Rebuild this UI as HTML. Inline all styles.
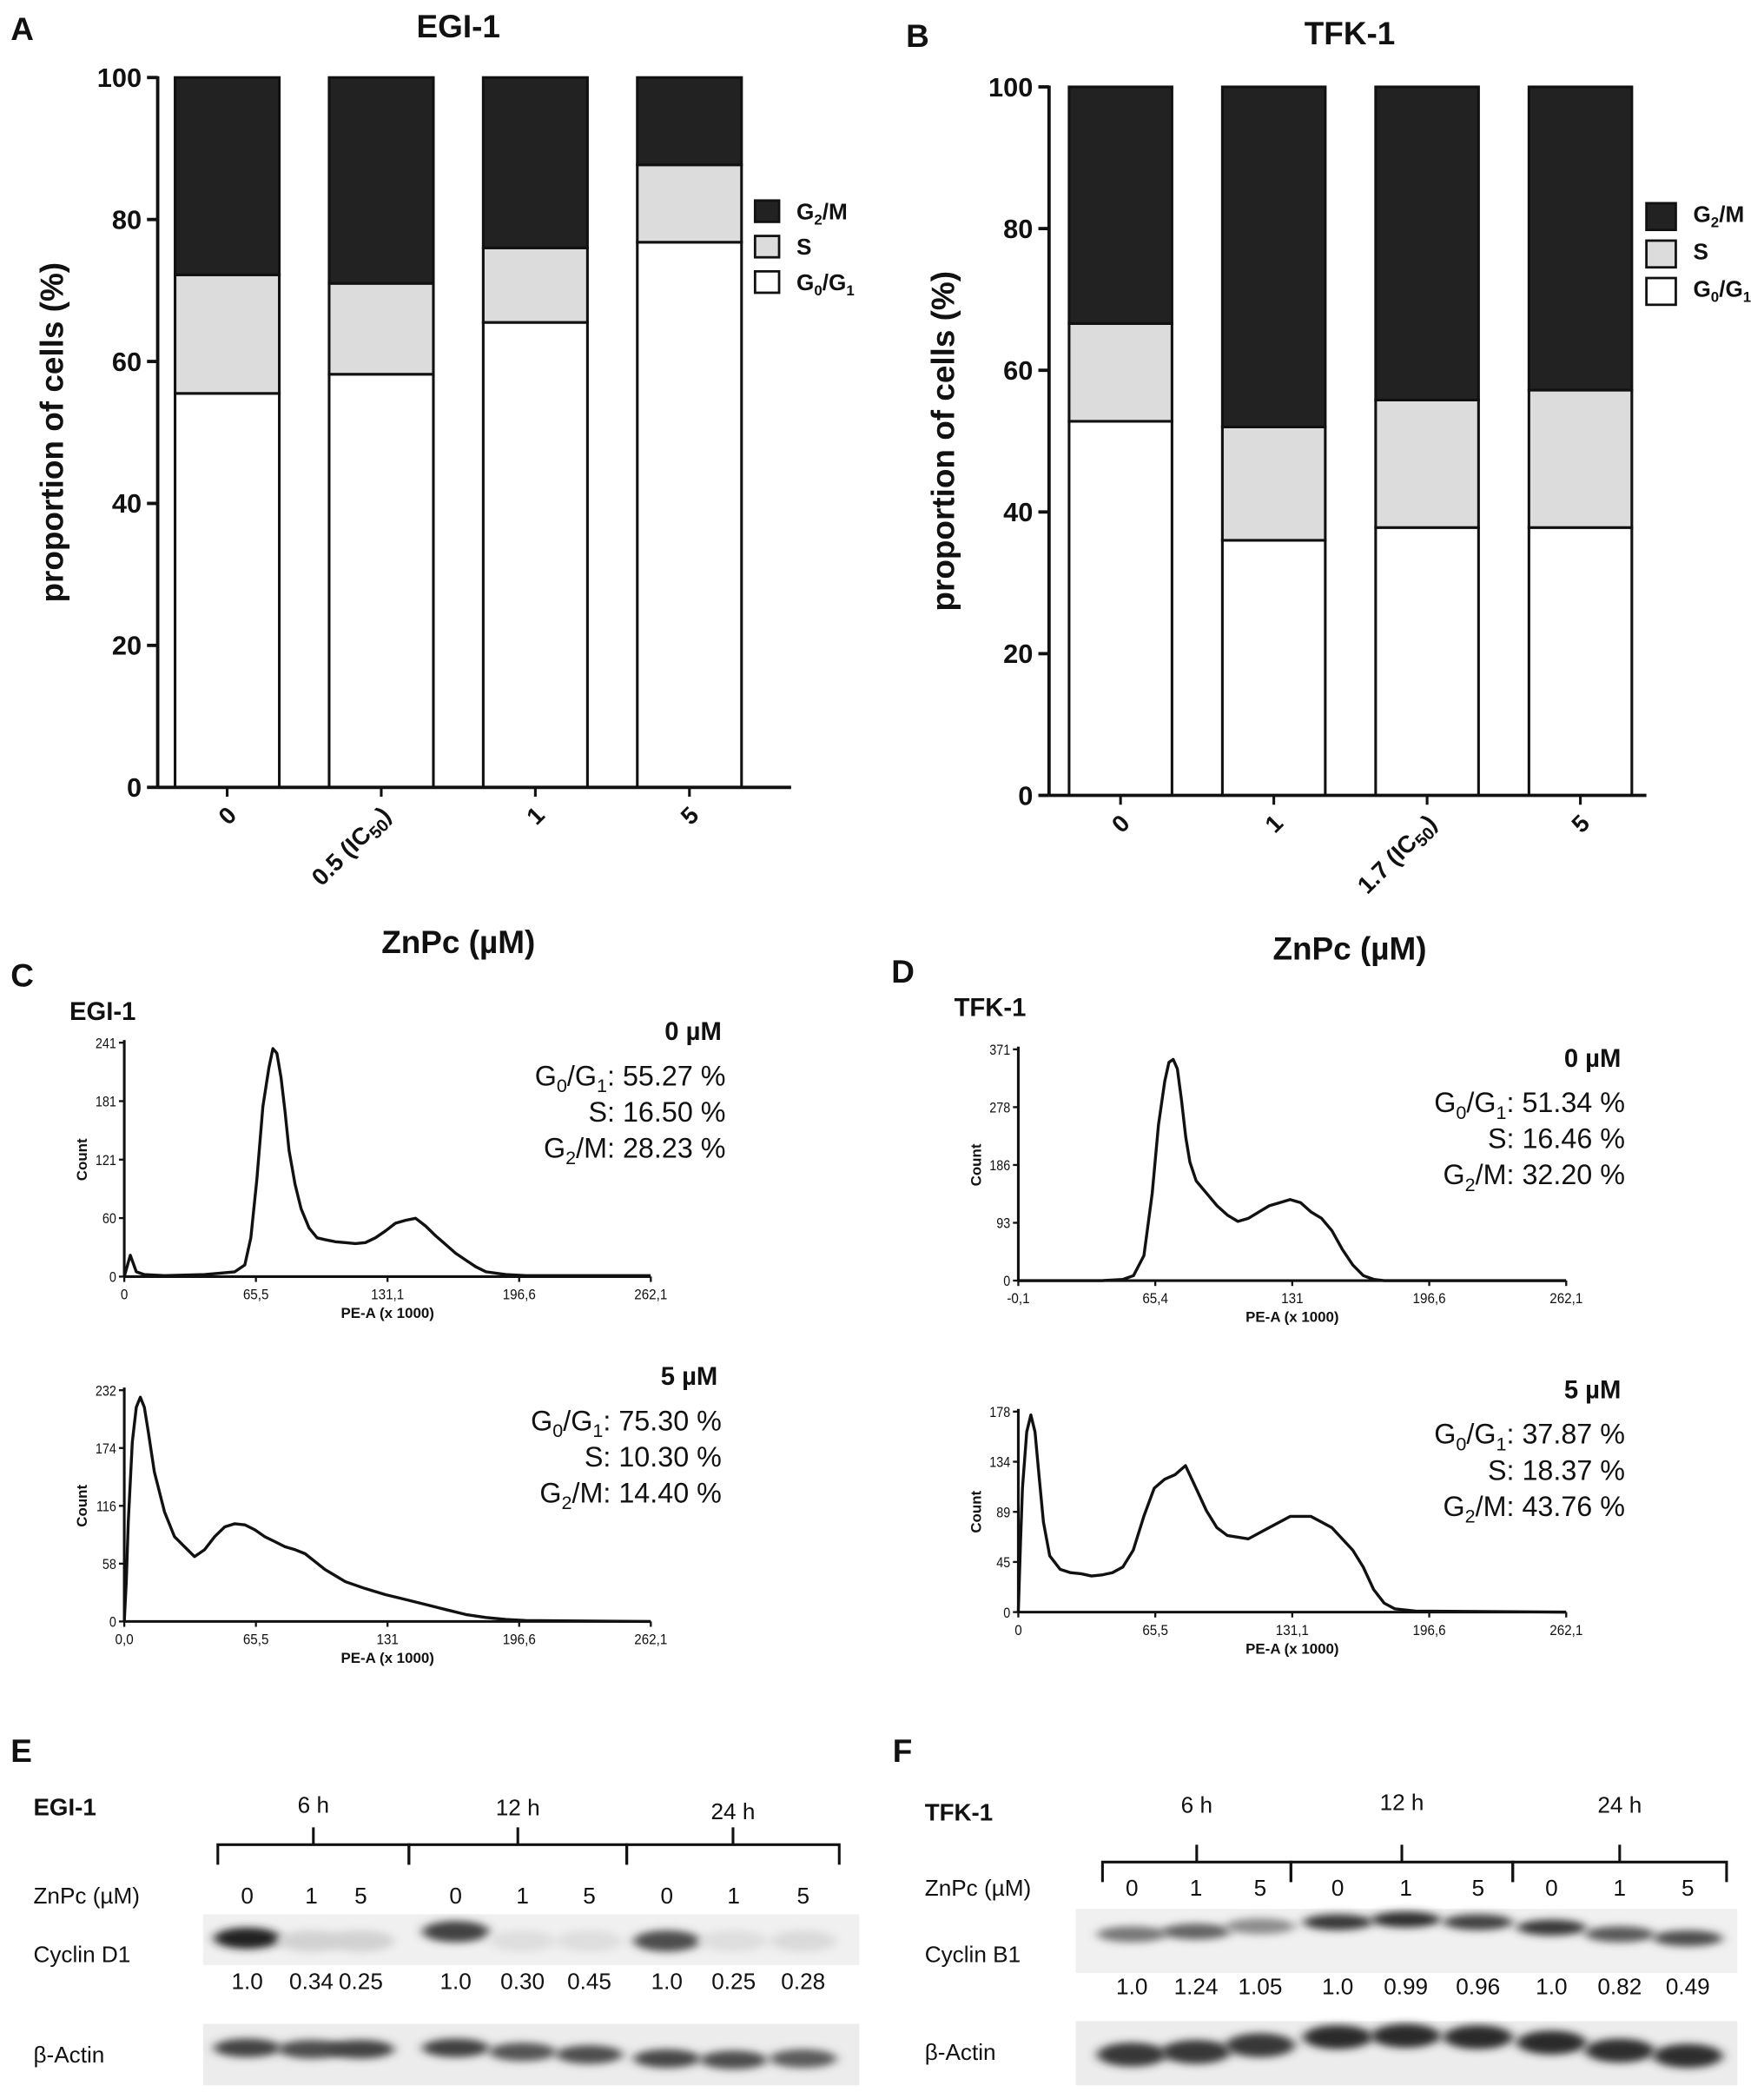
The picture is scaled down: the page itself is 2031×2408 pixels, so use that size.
<!DOCTYPE html>
<html><head><meta charset="utf-8">
<style>
html,body{margin:0;padding:0;background:#fff;}
svg{display:block;}
text{font-family:"Liberation Sans",Arial,sans-serif;}
.b{font-weight:bold;}
</style></head>
<body>
<svg id="fig" width="2031" height="2408" viewBox="0 0 1320 1565" preserveAspectRatio="none" xmlns="http://www.w3.org/2000/svg">
<defs>
<filter id="blur" x="-50%" y="-100%" width="200%" height="300%"><feGaussianBlur stdDeviation="4 3"/></filter>
<filter id="blur2" x="-20%" y="-50%" width="140%" height="200%"><feGaussianBlur stdDeviation="2"/></filter>
</defs>
<g id="root"></g>
</svg>
<script>
// ---------- Panel A data ----------
var catsA = ["0", "0.5 (IC50)", "1", "5"];
var g0g1A = [55.5, 58.2, 65.5, 76.8];
var sA = [16.7, 12.8, 10.5, 10.9];
// ---------- Panel B data ----------
var catsB = ["0", "1", "1.7 (IC50)", "5"];
var g0g1B = [52.8, 36.0, 37.8, 37.8];
var sB = [13.8, 16.0, 18.0, 19.4];
var yTicks = [0, 20, 40, 60, 80, 100];
// ---------- Histogram data ----------
var hC1x = [0,3,6,10,20,40,55,60,63,66,69,72,74,76,78,80,82,85,88,92,96,100,105,110,115,120,125,130,135,140,145,150,155,160,165,170,175,180,190,200,262];
var hC1y = [0,22,5,2,1,2,5,12,40,100,175,215,235,230,205,170,130,95,70,50,40,38,36,35,34,35,40,47,55,58,60,52,42,33,24,17,10,5,2,1,1];
var hC1ticks = ["0","65,5","131,1","196,6","262,1"];
var hC1yt = ["0","60","121","181","241"];
var hC2x = [0,1,2,4,6,8,10,12,15,20,25,30,35,40,45,50,55,60,65,70,75,80,85,90,95,100,110,120,130,140,150,160,170,180,190,200,262];
var hC2y = [0,40,100,180,215,225,215,190,150,110,85,75,65,72,85,95,98,97,92,85,80,75,72,68,60,52,40,33,27,22,17,12,7,4,2,1,0];
var hC2ticks = ["0,0","65,5","131","196,6","262,1"];
var hC2yt = ["0","58","116","174","232"];
var hD1x = [0,40,50,55,60,64,67,70,72,74,76,78,80,82,85,90,95,100,105,110,115,120,125,130,135,140,145,150,155,160,165,170,175,180,262];
var hD1y = [0,0,2,8,40,140,250,320,350,355,340,290,230,190,160,140,120,105,95,100,110,120,125,130,125,110,100,80,50,25,8,2,0,0,0];
var hD1ticks = ["-0,1","65,4","131","196,6","262,1"];
var hD1yt = ["0","93","186","278","371"];
var hD2x = [0,1,2,4,6,8,10,12,15,20,25,30,35,40,45,50,55,60,65,70,75,80,85,90,95,100,110,120,130,140,150,160,165,170,175,180,190,262];
var hD2y = [0,60,110,160,175,160,120,80,50,38,35,34,32,33,35,40,55,85,110,118,122,130,110,90,75,68,65,75,85,85,75,55,40,20,8,3,1,0];
var hD2ticks = ["0","65,5","131,1","196,6","262,1"];
var hD2yt = ["0","45","89","134","178"];
// ---------- Western blot data ----------
var lanesE = ["0","1","5","0","1","5","0","1","5"];
var quantE = ["1.0","0.34","0.25","1.0","0.30","0.45","1.0","0.25","0.28"];
var cycE = [0.95,0.12,0.12,0.8,0.06,0.06,0.75,0.06,0.08];
var actE = [0.8,0.75,0.8,0.82,0.72,0.75,0.78,0.75,0.68];
var quantF = ["1.0","1.24","1.05","1.0","0.99","0.96","1.0","0.82","0.49"];
var cycF = [0.55,0.65,0.45,0.85,0.9,0.8,0.85,0.7,0.75];
var actF = [0.85,0.85,0.85,0.92,0.92,0.92,0.92,0.9,0.9];

var NS = "http://www.w3.org/2000/svg";
var root = document.getElementById("root");
function mk(tag, attrs, parent){
  var e = document.createElementNS(NS, tag);
  for (var k in attrs) e.setAttribute(k, attrs[k]);
  (parent || root).appendChild(e);
  return e;
}
function txt(s, x, y, size, opts, parent){
  opts = opts || {};
  var a = {x:x, y:y, "font-size":size, fill:"#111"};
  if (opts.bold) a["font-weight"] = "bold";
  if (opts.anchor) a["text-anchor"] = opts.anchor;
  if (opts.transform) a.transform = opts.transform;
  if (opts.stretch) a.transform = "translate(" + x + "," + y + ") scale(" + opts.stretch + ",1) translate(" + (-x) + "," + (-y) + ")";
  var t = mk("text", a, parent);
  t.textContent = s;
  return t;
}

// ---------- Stacked bar chart ----------
function barChart(o){
  var g = mk("g", {});
  
  
  var y = function(v){ return o.y0 - (o.y0 - o.y100) * v / 100; };
  var t = txt(o.letter, o.letterX, o.letterY, 24, {bold:true}, g);
  
  
  t = txt(o.title, o.titleX, o.titleY, 24, {bold:true, anchor:"middle"}, g);
  
  
  // bars
  for (var i = 0; i < o.cats.length; i++){
    var x = o.barX0 + i * o.step;
    var a = o.g0[i], b = o.g0[i] + o.s[i];
    var r1 = mk("rect", {x:x, y:y(a), width:o.bw, height:y(0)-y(a), fill:"#fff", stroke:"#111", "stroke-width":2}, g);
    
    
    var r2 = mk("rect", {x:x, y:y(b), width:o.bw, height:y(a)-y(b), fill:"#dcdcdc", stroke:"#111", "stroke-width":2}, g);
    
    
    var r3 = mk("rect", {x:x, y:y(100), width:o.bw, height:y(b)-y(100), fill:"#222", stroke:"#111", "stroke-width":2}, g);
    
    
    var cx = x + o.bw/2;
    mk("line", {x1:cx, y1:o.y0, x2:cx, y2:o.y0+7, stroke:"#111", "stroke-width":2}, g);
    var lab = mk("text", {x:cx+8, y:o.y0+22, "font-size":18, "font-weight":"bold", "text-anchor":"end", fill:"#111", transform:"rotate(-45 " + (cx+8) + " " + (o.y0+22) + ")"}, g);
    
    
    var c = o.cats[i];
    if (c.indexOf("(IC50)") >= 0){
      lab.textContent = c.replace("IC50)", "IC");
      var sub = document.createElementNS(NS, "tspan");
      sub.setAttribute("font-size", 13); sub.setAttribute("dy", 4);
      sub.textContent = "50";
      lab.appendChild(sub);
      var cl = document.createElementNS(NS, "tspan");
      cl.setAttribute("dy", -4); cl.textContent = ")";
      lab.appendChild(cl);
    } else lab.textContent = c;
  }
  // axes
  var ax = mk("line", {x1:o.axX, y1:o.y100-1, x2:o.axX, y2:o.y0, stroke:"#111", "stroke-width":2.5}, g);
  
  
  var xa = mk("line", {x1:o.axX, y1:o.y0, x2:o.axEnd, y2:o.y0, stroke:"#111", "stroke-width":2.5}, g);
  
  
  for (var k = 0; k < yTicks.length; k++){
    var yy = y(yTicks[k]);
    mk("line", {x1:o.axX-8, y1:yy, x2:o.axX, y2:yy, stroke:"#111", "stroke-width":2.5}, g);
    var tl = txt(String(yTicks[k]), o.axX-12, yy+7, 20, {bold:true, anchor:"end"}, g);
    
    
  }
  var yt = mk("text", {x:o.ytX, y:(o.y0+o.y100)/2, "font-size":24, "font-weight":"bold", "text-anchor":"middle", fill:"#111", transform:"rotate(-90 " + o.ytX + " " + ((o.y0+o.y100)/2) + ")"}, g);
  yt.textContent = "proportion of cells (%)";
  
  
  var xt = txt("ZnPc (µM)", o.titleX, o.xtY, 24, {bold:true, anchor:"middle"}, g);
  
  
  // legend
  var fills = ["#222", "#dcdcdc", "#fff"];
  var names = [["G","2","/M"], ["S"], ["G","0","/G","1"]];
  for (var j = 0; j < 3; j++){
    var ly = o.legY + j * o.legStep;
    var sq = mk("rect", {x:o.legX, y:ly, width:o.legSz, height:o.legSz-2, fill:fills[j], stroke:"#111", "stroke-width":1.8}, g);
    
    
    var lt = mk("text", {x:o.legX+o.legSz+13, y:ly+14, "font-size":17, "font-weight":"bold", fill:"#111"}, g);
    
    
    var n = names[j];
    for (var q = 0; q < n.length; q++){
      var ts = document.createElementNS(NS, "tspan");
      if (q % 2 == 1){ ts.setAttribute("font-size", 11); ts.setAttribute("dy", 4); }
      else if (q > 0){ ts.setAttribute("dy", -4); }
      ts.textContent = n[q];
      lt.appendChild(ts);
    }
  }
}
barChart({name:"chart-a-egi1", letter:"A", letterX:8, letterY:30, title:"EGI-1", titleX:343, titleY:28,
  cats:catsA, g0:g0g1A, s:sA, y0:589, y100:58, axX:118, axEnd:592, barX0:131, step:115.3, bw:78,
  ytX:47, xtY:713, legX:565, legY:150, legStep:26.5, legSz:18});
barChart({name:"chart-b-tfk1", letter:"B", letterX:678, letterY:35, title:"TFK-1", titleX:1010, titleY:33,
  cats:catsB, g0:g0g1B, s:sB, y0:595, y100:65, axX:785, axEnd:1232, barX0:800, step:114.7, bw:77,
  ytX:714, xtY:718, legX:1232, legY:152, legStep:28, legSz:22});

// ---------- Histograms ----------
function hist(o){
  var g = mk("g", {});
  
  
  var xmin = o.xmin, xmax = 262.1;
  var X = function(v){ return o.x0 + (o.x1 - o.x0) * (v - xmin) / (xmax - xmin); };
  var Y = function(v){ return o.y0 - (o.y0 - o.yTop) * v / o.ymax; };
  var d = "";
  for (var i = 0; i < o.xs.length; i++) d += (i ? "L" : "M") + X(o.xs[i]).toFixed(1) + "," + Y(o.ys[i]).toFixed(1);
  var p = mk("path", {d:d, fill:"none", stroke:"#111", "stroke-width":2.2, "stroke-linejoin":"round"}, g);
  
  
  var ya = mk("line", {x1:o.x0, y1:o.yTop-2, x2:o.x0, y2:o.y0, stroke:"#111", "stroke-width":2}, g);
  
  
  var xa = mk("line", {x1:o.x0, y1:o.y0, x2:o.x1, y2:o.y0, stroke:"#111", "stroke-width":2}, g);
  
  
  for (var k = 0; k < 5; k++){
    var yy = o.y0 - (o.y0 - o.yTop) * k / 4;
    mk("line", {x1:o.x0-4, y1:yy, x2:o.x0, y2:yy, stroke:"#111", "stroke-width":1.5}, g);
    var yl = txt(o.yt[k], o.x0-6, yy+4, 11, {anchor:"end", stretch:0.85}, g);
    
    
    var xx = o.x0 + (o.x1 - o.x0) * k / 4;
    mk("line", {x1:xx, y1:o.y0, x2:xx, y2:o.y0+4, stroke:"#111", "stroke-width":1.5}, g);
    var xl = txt(o.xt[k], xx, o.y0+17, 11, {anchor:"middle", stretch:0.9}, g);
    
    
  }
  var yt = mk("text", {x:o.x0-28, y:(o.y0+o.yTop)/2, "font-size":11, "font-weight":"bold", "text-anchor":"middle", fill:"#111", transform:"rotate(-90 " + (o.x0-28) + " " + ((o.y0+o.yTop)/2) + ")"}, g);
  yt.textContent = "Count";
  
  
  var xt = txt("PE-A (x 1000)", (o.x0+o.x1)/2, o.y0+31, 11, {anchor:"middle", bold:true}, g);
  
  
  // stats
  var c = txt(o.conc, o.sx, o.sy, 19, {bold:true, anchor:"end"}, g);
  
  
  var lines = [["G","0","/G","1",": " + o.st[0] + " %"], ["S: " + o.st[1] + " %"], ["G","2","/M: " + o.st[2] + " %"]];
  for (var j = 0; j < 3; j++){
    var t = mk("text", {x:o.sx+3, y:o.sy+34+j*27, "font-size":21, "text-anchor":"end", fill:"#111"}, g);
    
    
    var L = lines[j];
    for (var q = 0; q < L.length; q++){
      var ts = document.createElementNS(NS, "tspan");
      if (q % 2 == 1){ ts.setAttribute("font-size", 14); ts.setAttribute("dy", 5); }
      else if (q > 0){ ts.setAttribute("dy", -5); }
      ts.textContent = L[q];
      t.appendChild(ts);
    }
  }
}
var lc = txt("C", 8, 738, 24, {bold:true});  
var lcl = txt("EGI-1", 52, 763, 19, {bold:true});  
var ld = txt("D", 667, 735, 24, {bold:true});  
var ldl = txt("TFK-1", 714, 760, 19, {bold:true});  
hist({name:"histogram-egi1-0um", xs:hC1x, ys:hC1y, xt:hC1ticks, yt:hC1yt, xmin:0, ymax:241, x0:93, x1:487, y0:955, yTop:780, conc:"0 µM", st:["55.27","16.50","28.23"], sx:540, sy:778});
hist({name:"histogram-egi1-5um", xs:hC2x, ys:hC2y, xt:hC2ticks, yt:hC2yt, xmin:0, ymax:232, x0:93, x1:487, y0:1213, yTop:1040, conc:"5 µM", st:["75.30","10.30","14.40"], sx:537, sy:1036});
hist({name:"histogram-tfk1-0um", xs:hD1x, ys:hD1y, xt:hD1ticks, yt:hD1yt, xmin:-0.1, ymax:371, x0:762, x1:1172, y0:958, yTop:785, conc:"0 µM", st:["51.34","16.46","32.20"], sx:1213, sy:798});
hist({name:"histogram-tfk1-5um", xs:hD2x, ys:hD2y, xt:hD2ticks, yt:hD2yt, xmin:0, ymax:178, x0:762, x1:1172, y0:1206, yTop:1056, conc:"5 µM", st:["37.87","18.37","43.76"], sx:1213, sy:1046});

// ---------- Western blots ----------
function blot(o){
  var g = mk("g", {});
  
  
  var L = txt(o.letter, o.letterX, 1318, 24, {bold:true}, g);
  
  
  var cl = txt(o.cell, o.cellX, o.cellY, 18, {bold:true}, g);
  
  
  // brackets
  for (var b = 0; b < 3; b++){
    var a = o.brk[b][0], e = o.brk[b][1], m = (a+e)/2;
    var path = "M" + a + "," + (o.brY+15) + " L" + a + "," + o.brY + " L" + e + "," + o.brY + " L" + e + "," + (o.brY+15) + " M" + m + "," + o.brY + " L" + m + "," + (o.brY-13);
    var br = mk("path", {d:path, fill:"none", stroke:"#111", "stroke-width":2}, g);
    
    
    var tl = txt(o.times[b], m, o.timeY[b], 17, {anchor:"middle"}, g);
    
    
  }
  var zl = txt("ZnPc (µM)", o.cellX, o.laneY, 17, {}, g);
  
  
  var bg1 = mk("rect", {x:o.bx0, y:o.c1y, width:o.bx1-o.bx0, height:o.c1h, fill:"#f0f0f0"}, g);
  
  
  var bg2 = mk("rect", {x:o.bx0, y:o.a1y, width:o.bx1-o.bx0, height:o.a1h, fill:"#ececec"}, g);
  
  
  for (var i = 0; i < lanesE.length; i++){
    var lx = o.lanes[i];
    var ln = txt(lanesE[i], lx, o.laneY, 17, {anchor:"middle"}, g);
    
    
    var gv = Math.round(235 - 210 * o.cyc[i]);
    var band = mk("ellipse", {cx:lx, cy:o.cycBY[i], rx:o.bandW, ry:o.cycRy, fill:"rgb(" + gv + "," + gv + "," + gv + ")", filter:"url(#blur)"}, g);
    
    
    var av = Math.round(235 - 210 * o.act[i]);
    var ab = mk("ellipse", {cx:lx, cy:o.actBY[i], rx:o.bandW, ry:o.actRy, fill:"rgb(" + av + "," + av + "," + av + ")", filter:"url(#blur)"}, g);
    
    
    var qv = txt(o.quant[i], lx, o.quantY, 17, {anchor:"middle"}, g);
    
    
  }
  var cn = txt(o.cycName, o.cellX, o.cycLabY, 17, {}, g);
  
  
  var an = txt("β-Actin", o.cellX, o.actLabY, 17, {}, g);
  
  
}
blot({name:"blot-e-egi1", letter:"E", letterX:8, cell:"EGI-1", cellX:25, cellY:1358,
  brk:[[163,306],[306,469],[469,628]], brY:1380, times:["6 h","12 h","24 h"], timeY:[1356,1358,1361],
  laneY:1424, lanes:[185,233,270,341,391,441,499,549,601],
  bx0:152, bx1:643, c1y:1432, c1h:38, a1y:1514, a1h:46,
  cyc:cycE, act:actE, cycBY:[1450,1452,1452,1445,1452,1452,1452,1452,1452], actBY:[1532,1533,1533,1532,1535,1537,1540,1541,1540],
  bandW:25, cycRy:8, actRy:7, quant:quantE, quantY:1488, cycName:"Cyclin D1", cycLabY:1468, actLabY:1543});
blot({name:"blot-f-tfk1", letter:"F", letterX:668, cell:"TFK-1", cellX:692, cellY:1362,
  brk:[[825,966],[966,1132],[1132,1292]], brY:1393, times:["6 h","12 h","24 h"], timeY:[1356,1354,1356],
  laneY:1418, lanes:[847,895,943,1001,1052,1106,1161,1212,1263],
  bx0:805, bx1:1300, c1y:1428, c1h:48, a1y:1512, a1h:48,
  cyc:cycF, act:actF, cycBY:[1447,1445,1441,1438,1436,1438,1442,1447,1450], actBY:[1537,1535,1530,1524,1523,1524,1528,1534,1538],
  bandW:26, cycRy:6, actRy:9, quant:quantF, quantY:1492, cycName:"Cyclin B1", cycLabY:1468, actLabY:1541});
</script>
</body></html>
